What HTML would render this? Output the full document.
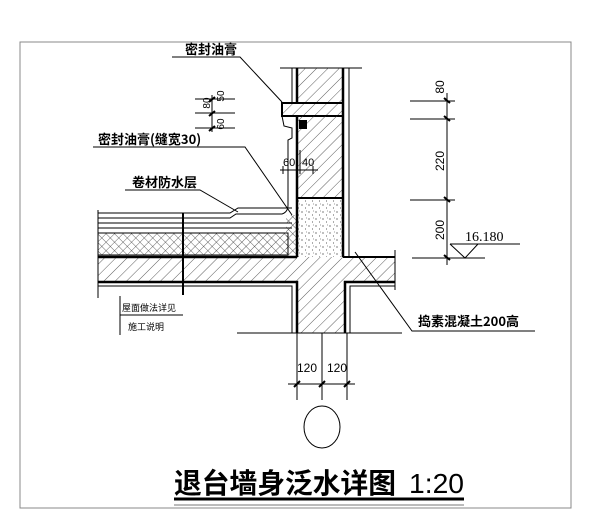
<!DOCTYPE html>
<html><head><meta charset="utf-8"><style>
html,body{margin:0;padding:0;background:#fff;}
svg{display:block;}
text{font-family:"Liberation Sans","Noto Sans CJK SC",sans-serif;fill:#000;}
.cn{font-family:"Noto Sans CJK SC","WenQuanYi Zen Hei",sans-serif;}
</style></head><body>
<svg width="610" height="516" viewBox="0 0 610 516" xmlns="http://www.w3.org/2000/svg">
<defs>
<pattern id="diag" width="8" height="8" patternUnits="userSpaceOnUse" patternTransform="rotate(45)">
<line x1="0" y1="0" x2="0" y2="8" stroke="#333" stroke-width="0.8"/></pattern>
<pattern id="cross" width="6" height="6" patternUnits="userSpaceOnUse" patternTransform="rotate(45)">
<line x1="0" y1="0" x2="0" y2="6" stroke="#222" stroke-width="0.7"/><line x1="0" y1="0" x2="6" y2="0" stroke="#222" stroke-width="0.7"/></pattern>
<pattern id="dots" width="7" height="7" patternUnits="userSpaceOnUse">
<circle cx="1" cy="2" r="0.6" fill="#222"/><circle cx="4.5" cy="5" r="0.5" fill="#222"/><circle cx="5.5" cy="1" r="0.4" fill="#222"/></pattern>
</defs>
<g fill="none" stroke="#000" stroke-width="1">
<path d="M20 42 H571 V508 H20 Z" stroke="#888"/>
<line x1="280" y1="68" x2="362" y2="68"/>
<rect x="297" y="68" width="46" height="35" fill="url(#diag)" stroke="none"/>
<rect x="282" y="103" width="61" height="13" fill="url(#diag)" stroke-width="2"/>
<rect x="297" y="116" width="46" height="82" fill="url(#diag)" stroke="none"/>
<rect x="297" y="198" width="46" height="59" fill="url(#dots)" stroke="none"/>
<line x1="297" y1="198" x2="343" y2="198" stroke-width="2"/>
<line x1="297" y1="68" x2="297" y2="103" stroke-width="2.5"/>
<line x1="297" y1="116" x2="297" y2="257" stroke-width="2.5"/>
<line x1="343" y1="68" x2="343" y2="257" stroke-width="2.5"/>
<line x1="349" y1="68" x2="349" y2="257"/>
<line x1="292" y1="68" x2="292" y2="103"/>
<rect x="299" y="120" width="8" height="9" fill="#000" stroke="none"/>
<path d="M282 116 L284 126 L292 128 L292 138 L288 140 L288 205 Q288 212 282 214 L236 214 L230 218 L98 218"/>
<path d="M98 213 H230 L238 208 H292"/>
<line x1="98" y1="223" x2="292" y2="223"/>
<line x1="98" y1="228" x2="292" y2="228"/>
<rect x="98" y="233" width="190" height="22" fill="url(#cross)"/>
<rect x="286" y="215" width="10" height="40" fill="url(#cross)" stroke="none"/>
<path d="M98 257 H395 V282 H345 V333 H297 V282 H98 Z" fill="url(#diag)" stroke="none"/>
<line x1="98" y1="257" x2="297" y2="257" stroke-width="2.5"/>
<line x1="343" y1="257" x2="395" y2="257" stroke-width="2"/>
<path d="M98 282 H297 V333" stroke-width="2.5"/>
<path d="M395 282 H345 V333" stroke-width="2.5"/>
<path d="M98 286 H292 V333 M395 286 H350 V333"/>
<line x1="237" y1="333" x2="402" y2="333"/>
<line x1="98" y1="210" x2="98" y2="298"/>
<line x1="183" y1="213" x2="183" y2="295" stroke-width="2"/>
<line x1="395" y1="250" x2="395" y2="290"/>
<path d="M120 315 H183 M120 296 V335"/>
<path d="M172 57 H240 L282 102"/>
<path d="M93 147 H245 L292 215"/>
<path d="M125 190 H200 L238 212"/>
<path d="M355 252 L412 331 H535"/>
<path d="M195 99 H235 M195 113 H235 M195 128 H235 M212 95 V132"/>
<path d="M209 102 l6 -5 M209 116 l6 -5 M209 131 l6 -5" stroke-width="2"/>
<path d="M280 170 H318 M283 166 V174 M300 150 V174 M313 166 V174"/>
<line x1="447" y1="93" x2="447" y2="265"/>
<path d="M410 101 H455 M410 119 H455 M410 200 H455 M412 258 H485"/>
<path d="M444 98 l6 5 M444 116 l6 5 M444 197 l6 5 M444 255 l6 5" stroke-width="2"/>
<path d="M450 244 H520 M450 244 L465 258 L478 244"/>
<path d="M297 333 V400 M322 333 V400 M347 333 V400 M288 384 H355"/>
<path d="M294 387 l6 -6 M319 387 l6 -6 M344 387 l6 -6" stroke-width="2"/>
<ellipse cx="322" cy="427" rx="18" ry="21"/>
<line x1="174" y1="499" x2="464" y2="499" stroke-width="3"/>
<line x1="174" y1="505" x2="464" y2="505" stroke="#777"/>
</g>
<text x="185" y="54" class="cn" font-size="13" font-weight="bold">密封油膏</text>
<text x="98" y="144" class="cn" font-size="13" font-weight="bold">密封油膏(缝宽30)</text>
<text x="132" y="187" class="cn" font-size="13" font-weight="bold">卷材防水层</text>
<text x="418" y="326" class="cn" font-size="13" font-weight="bold">捣素混凝土200高</text>
<text x="122" y="311" class="cn" font-size="9">屋面做法详见</text>
<text x="128" y="330" class="cn" font-size="9">施工说明</text>
<text x="465" y="241" font-size="14" style="font-family:'Liberation Serif',serif">16.180</text>
<g font-size="12" fill="#333">
<text transform="translate(444,87) rotate(-90)" text-anchor="middle">80</text>
<text transform="translate(444,161) rotate(-90)" text-anchor="middle">220</text>
<text transform="translate(444,230) rotate(-90)" text-anchor="middle">200</text>
<text transform="translate(210,103) rotate(-90)" text-anchor="middle" font-size="10">80</text>
<text transform="translate(224,96) rotate(-90)" text-anchor="middle" font-size="10">50</text>
<text transform="translate(224,124) rotate(-90)" text-anchor="middle" font-size="10">60</text>
<text x="283" y="166" font-size="11">60</text>
<text x="302" y="166" font-size="11">40</text>
<text x="297" y="372" font-size="12">120</text>
<text x="327" y="372" font-size="12">120</text>
</g>
<text x="174" y="493" class="cn" font-size="28" font-weight="bold" textLength="222" lengthAdjust="spacingAndGlyphs">退台墙身泛水详图</text>
<text x="409" y="493" font-size="28" textLength="55" lengthAdjust="spacingAndGlyphs">1:20</text>
</svg>
</body></html>
